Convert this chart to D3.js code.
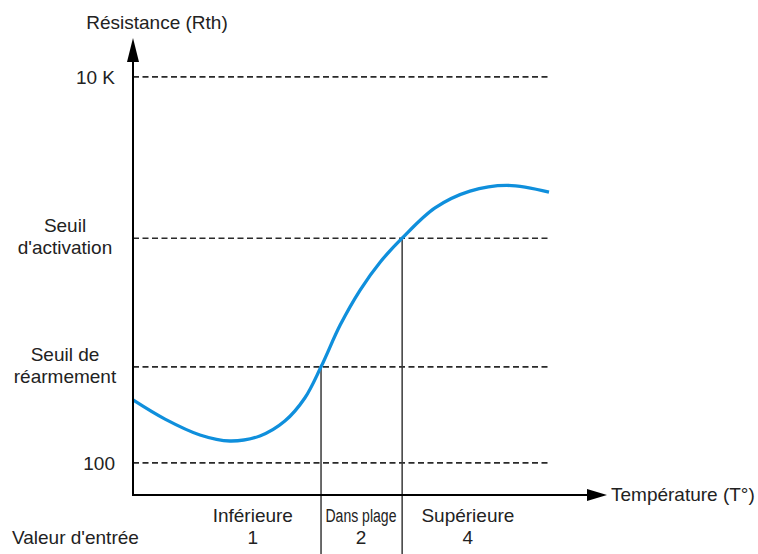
<!DOCTYPE html>
<html>
<head>
<meta charset="utf-8">
<script src="https://cdn.jsdelivr.net/npm/d3@7"></script>
<style>
  body { margin: 0; background: #fff; }
  text { font-family: "Liberation Sans", Arial, sans-serif; fill: #222; font-size: 19px; }
</style>
</head>
<body>
<div id="chart"></div>
<script>
// niveaux de résistance (unités arbitraires, 0 = axe)
var levelValues = [6.7, 26.7, 53.5, 87.1];
var levelLabels = [['100'], ['Seuil de', 'réarmement'], ['Seuil', "d'activation"], ['10 K']];

// courbe Rth(T)
var curveT = [0, 7.7, 16.1, 23.3, 30.5, 36.5, 41.3, 45.2, 49.8, 54.6, 59.4, 64.7, 72.6, 81.0, 89.9, 100];
var curveR = [19.8, 15.8, 12.5, 11.25, 12.3, 15.4, 20.2, 26.7, 35.4, 42.7, 48.5, 53.5, 59.8, 63.3, 64.5, 63.1];

// limites des zones (T aux seuils)
var zoneBounds = [45.2, 64.7];
var zoneLevels = [26.7, 53.5];
var zoneNames = ['Inférieure', 'Dans plage', 'Supérieure'];
var zoneValues = ['1', '2', '4'];
var zoneCenters = [28.8, 54.8, 80.5];

var width = 758, height = 554;

var svg = d3.select('#chart').append('svg')
  .attr('width', width)
  .attr('height', height);

var x = d3.scaleLinear().domain([0, 100]).range([133, 549]);
var y = d3.scaleLinear().domain([0, 100]).range([495, 15]);

// lignes pointillées horizontales
svg.selectAll('.level')
  .data(levelValues)
  .enter().append('line')
  .attr('x1', x(0)).attr('x2', x(100))
  .attr('y1', function(d) { return y(d); })
  .attr('y2', function(d) { return y(d); })
  .attr('stroke', '#2a2a2a')
  .attr('stroke-width', 1.6)
  .attr('stroke-dasharray', '6,3.5');

// lignes verticales des zones
svg.selectAll('.zone')
  .data(zoneBounds)
  .enter().append('line')
  .attr('x1', function(d) { return x(d); })
  .attr('x2', function(d) { return x(d); })
  .attr('y1', function(d, i) { return y(zoneLevels[i]); })
  .attr('y2', height)
  .attr('stroke', '#3a3a3a')
  .attr('stroke-width', 1.5);

// courbe
var pts = curveT.map(function(t, i) { return [t, curveR[i]]; });
var line = d3.line()
  .x(function(d) { return x(d[0]); })
  .y(function(d) { return y(d[1]); })
  .curve(d3.curveCatmullRom);

svg.append('path')
  .datum(pts)
  .attr('d', line)
  .attr('fill', 'none')
  .attr('stroke', '#0f8fdc')
  .attr('stroke-width', 3.3);

// axes avec flèches
svg.append('line')
  .attr('x1', x(0)).attr('x2', x(0))
  .attr('y1', y(0) + 1).attr('y2', 60)
  .attr('stroke', '#000').attr('stroke-width', 2);
svg.append('path')
  .attr('d', 'M' + x(0) + ',38 L' + (x(0) - 6) + ',62 L' + (x(0) + 6) + ',62 Z')
  .attr('fill', '#000');

svg.append('line')
  .attr('x1', x(0) - 1).attr('x2', 590)
  .attr('y1', y(0)).attr('y2', y(0))
  .attr('stroke', '#000').attr('stroke-width', 2);
svg.append('path')
  .attr('d', 'M607,' + y(0) + ' L587,' + (y(0) - 6) + ' L587,' + (y(0) + 6) + ' Z')
  .attr('fill', '#000');

// titres des axes
svg.append('text')
  .attr('x', 157).attr('y', 29)
  .attr('text-anchor', 'middle')
  .text('Résistance (Rth)');

svg.append('text')
  .attr('x', 611).attr('y', 501)
  .text('Température (T°)');

// étiquettes des niveaux
levelValues.forEach(function(v, i) {
  var lines = levelLabels[i];
  var t = svg.append('text');
  if (lines.length === 1) {
    t.attr('text-anchor', 'end');
    t.append('tspan').attr('x', 115).attr('y', y(v) + 7).text(lines[0]);
  } else {
    // étiquettes sur deux lignes : centrées
    t.attr('text-anchor', 'middle');
    t.append('tspan').attr('x', 65).attr('y', y(v) - 6).text(lines[0]);
    t.append('tspan').attr('x', 65).attr('y', y(v) + 16).text(lines[1]);
  }
});

// zones en bas
zoneNames.forEach(function(n, i) {
  var lab = svg.append('text')
    .attr('x', x(zoneCenters[i])).attr('y', 522)
    .attr('text-anchor', 'middle')
    .text(n);
  if (i === 1) {
    lab.style('font-size', '18px')
      .attr('textLength', 71)
      .attr('lengthAdjust', 'spacingAndGlyphs');
  }
  svg.append('text')
    .attr('x', x(zoneCenters[i])).attr('y', 544)
    .attr('text-anchor', 'middle')
    .text(zoneValues[i]);
});

svg.append('text')
  .attr('x', 12).attr('y', 544)
  .text("Valeur d'entrée");
</script>
</body>
</html>
